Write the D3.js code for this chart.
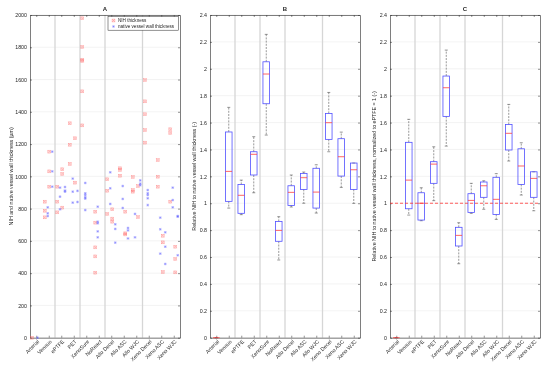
<!DOCTYPE html>
<html><head><meta charset="utf-8">
<script src="https://cdn.jsdelivr.net/npm/d3@7"></script>
<style>body{margin:0;background:#fff} svg{will-change:transform} text{font-family:"Liberation Sans",Arial,sans-serif;fill:#262626}</style>
</head><body><svg id="c" width="550" height="367"></svg>
<script>
const categories = ["Arterial","Venous","ePTFE","PET","XenoSure","NoReact","Allo Decel","Allo ASC","Allo WJC","Xeno Decel","Xeno ASC","Xeno WJC"];
const groupSeparators = [2.5, 4.5, 6.5, 9.5];
const titles = ["A","B","C"];
const yLabels = ["NIH and native vessel wall thickness (\u00b5m)",
  "Relative NIH to native vessel wall thickness (-)",
  "Relative NIH to native vessel wall thickness, normalized to ePTFE = 1 (-)"];
const yTicksA = [0,200,400,600,800,1000,1200,1400,1600,1800,2000];
const yTicksBC = [0,0.2,0.4,0.6,0.8,1,1.2,1.4,1.6,1.8,2,2.2,2.4];
const legendLabels = ["NIH thickness","native vessel wall thickness"];

// Panel A scatter: x position in category units, thickness in µm
const nihX = [0.66,
  1.68,1.68,1.68,2.04,2.04,2.04,
  2.68,2.68,2.68,3.08,3.08,3.08,
  3.68,3.68,3.68,4.1,4.1,
  4.68,4.68,4.68,4.68,4.68,4.68,
  5.72,5.72,5.72,5.72,5.72,
  6.68,6.68,6.68,7.08,7.08,7.08,
  7.7,7.7,7.7,8.12,8.12,8.12,
  8.72,8.72,8.72,9.14,9.14,
  9.7,9.7,9.7,9.7,9.7,
  10.72,10.72,10.72,11.12,11.12,11.12,
  11.72,11.72,11.72,12.12,12.12,12.12];
const nihVal = [0,
  843,787,746,1153,1031,936,
  936,843,777,1044,1015,806,
  1329,1196,1077,1236,961,
  1980,1802,1723,1715,1527,1316,
  781,713,560,504,403,
  982,911,767,796,738,719,
  1050,1040,1004,781,647,640,
  996,915,905,940,748,
  1597,1465,1385,1287,1209,
  1101,998,936,632,591,407,
  1292,1269,843,564,488,405];
const nativeX = [1.1,
  1.92,1.92,1.92,2.28,2.28,2.28,
  2.9,2.9,2.9,3.3,3.3,3.3,
  3.92,3.92,3.92,4.3,4.3,
  4.92,4.92,4.92,4.92,4.92,4.92,
  5.92,5.92,5.92,5.92,5.92,
  6.92,6.92,6.92,7.32,7.32,7.32,
  7.92,7.92,7.92,8.34,8.34,8.34,
  9.32,9.32,9.32,8.9,8.9,
  9.92,9.92,9.92,9.92,9.92,
  10.92,10.92,10.92,11.32,11.32,11.32,
  11.92,11.92,11.92,12.32,12.32,12.32];
const nativeVal = [0,
  808,771,754,1153,1031,936,
  930,874,796,934,912,905,
  986,905,837,910,841,
  959,895,884,870,862,791,
  812,719,709,659,622,
  1025,926,829,703,674,589,
  940,860,804,680,665,615,
  975,955,945,767,622,
  915,895,884,864,822,
  744,672,521,653,564,457,
  930,853,808,754,750,511];

// Panel B / C box stats: [lower whisker, q1, median, q3, upper whisker]
const boxB = [[0,0,0,0,0],[0.964,1.014,1.237,1.53,1.713],[0.915,0.925,1.059,1.14,1.172],
  [1.078,1.21,1.364,1.383,1.495],[1.507,1.74,1.961,2.052,2.256],[0.578,0.717,0.798,0.865,0.90],
  [0.972,0.984,1.081,1.13,1.21],[1.0,1.103,1.19,1.222,1.232],[0.927,0.964,1.083,1.26,1.286],
  [1.383,1.475,1.599,1.668,1.824],[1.118,1.202,1.346,1.48,1.529],[0.999,1.103,1.249,1.299,1.299]];
const boxC = [[0,0,0,0,0],[0.912,0.959,1.172,1.453,1.624],[0.87,0.875,1.0,1.078,1.115],
  [1.019,1.148,1.291,1.309,1.42],[1.425,1.646,1.859,1.946,2.139],[0.55,0.682,0.761,0.821,0.855],
  [0.925,0.932,1.021,1.071,1.148],[0.955,1.044,1.13,1.158,1.167],[0.88,0.917,1.029,1.193,1.22],
  [1.314,1.396,1.52,1.586,1.735],[1.061,1.14,1.277,1.405,1.45],[0.944,1.044,1.185,1.234,1.234]];
const referenceLineC = 1;

const svg = d3.select("#c");
const plotTop = 15, plotBottom = 337.7;
const panelLefts = [30, 210, 390], panelW = 150;
const fs = 5.3;

function panel(i, yDomain, yTicks, fmt) {
  const L = panelLefts[i];
  const x = d3.scaleLinear().domain([0.5, 12.5]).range([L, L + panelW]);
  const y = d3.scaleLinear().domain(yDomain).range([plotBottom, plotTop]);
  const g = svg.append("g");
  g.selectAll(".gy").data(yTicks).enter().append("line")
    .attr("x1", L).attr("x2", L + panelW).attr("y1", d => y(d)).attr("y2", d => y(d))
    .attr("stroke", "#ebebeb").attr("stroke-width", 0.6);
  g.selectAll(".sep").data(groupSeparators).enter().append("line")
    .attr("x1", d => x(d)).attr("x2", d => x(d)).attr("y1", plotTop).attr("y2", plotBottom)
    .attr("stroke", "#d6d6d6").attr("stroke-width", 1.3);
  const yAxisL = d3.axisLeft(y).tickValues(yTicks).tickFormat(fmt).tickSizeInner(-2).tickSizeOuter(0).tickPadding(3);
  const yAxisR = d3.axisRight(y).tickValues(yTicks).tickFormat("").tickSizeInner(-2).tickSizeOuter(0);
  const xAxisB = d3.axisBottom(x).tickValues(d3.range(1, 13)).tickFormat("").tickSizeInner(-2).tickSizeOuter(0);
  const xAxisT = d3.axisTop(x).tickValues(d3.range(1, 13)).tickFormat("").tickSizeInner(-2).tickSizeOuter(0);
  const ax = [
    g.append("g").attr("transform", `translate(${L},0)`).call(yAxisL),
    g.append("g").attr("transform", `translate(${L + panelW},0)`).call(yAxisR),
    g.append("g").attr("transform", `translate(0,${plotBottom})`).call(xAxisB),
    g.append("g").attr("transform", `translate(0,${plotTop})`).call(xAxisT)];
  ax.forEach(a => {
    a.select(".domain").attr("stroke", "#262626").attr("stroke-width", 0.6);
    a.selectAll(".tick line").attr("stroke", "#262626").attr("stroke-width", 0.5);
    a.selectAll("text").attr("font-size", fs).attr("fill", "#262626").attr("font-family", '"Liberation Sans",Arial,sans-serif');
  });
  g.selectAll(".xl").data(categories).enter().append("text")
    .attr("transform", (d, j) => `translate(${x(j + 1) + 2},${plotBottom + 3}) rotate(-45)`)
    .attr("text-anchor", "end").attr("dy", "0.35em").attr("font-size", fs).attr("fill", "#262626").text(d => d);
  g.append("text").attr("x", L + panelW / 2).attr("y", 10.5).attr("text-anchor", "middle")
    .attr("font-size", 6).attr("font-weight", "bold").text(titles[i]);
  const lx = i === 0 ? 12.5 : L - 14;
  g.append("text").attr("transform", `translate(${lx},${(plotTop + plotBottom) / 2}) rotate(-90)`)
    .attr("text-anchor", "middle").attr("font-size", fs).text(yLabels[i]);
  return {g, x, y};
}

function redMark(g, cx, cy) {
  const s = 1.45;
  g.append("rect").attr("x", cx - s).attr("y", cy - s).attr("width", 2 * s).attr("height", 2 * s)
    .attr("fill", "rgba(255,150,150,0.25)").attr("stroke", "rgba(255,70,70,0.45)").attr("stroke-width", 0.5);
  g.append("path").attr("d", `M${cx - s},${cy - s}L${cx + s},${cy + s}M${cx - s},${cy + s}L${cx + s},${cy - s}`)
    .attr("stroke", "rgba(255,70,70,0.45)").attr("stroke-width", 0.45);
}
function blueMark(g, cx, cy) {
  const s = 1.3;
  g.append("rect").attr("x", cx - s).attr("y", cy - s).attr("width", 2 * s).attr("height", 2 * s)
    .attr("fill", "rgba(130,130,255,0.2)").attr("stroke", "none");
  g.append("path").attr("d", `M${cx - s},${cy}L${cx + s},${cy}M${cx},${cy - s}L${cx},${cy + s}M${cx - s * 0.75},${cy - s * 0.75}L${cx + s * 0.75},${cy + s * 0.75}M${cx - s * 0.75},${cy + s * 0.75}L${cx + s * 0.75},${cy - s * 0.75}`)
    .attr("stroke", "rgba(70,70,255,0.5)").attr("stroke-width", 0.45);
}

const A = panel(0, [0, 2000], yTicksA, d3.format("d"));
nihX.forEach((u, k) => redMark(A.g, A.x(u), A.y(nihVal[k])));
nativeX.forEach((u, k) => blueMark(A.g, A.x(u), A.y(nativeVal[k])));
const lg = A.g.append("g");
lg.append("rect").attr("x", 108).attr("y", 16.7).attr("width", 70.5).attr("height", 13.5)
  .attr("fill", "#fff").attr("stroke", "#262626").attr("stroke-width", 0.5);
redMark(lg, 113.5, 20.5);
blueMark(lg, 113.5, 26.5);
lg.append("text").attr("x", 118).attr("y", 20.5).attr("dy", "0.35em").attr("font-size", 4.6).text(legendLabels[0]);
lg.append("text").attr("x", 118).attr("y", 26.5).attr("dy", "0.35em").attr("font-size", 4.6).text(legendLabels[1]);

function boxes(P, data) {
  const hw = 3.3, cw = 1.5;
  data.forEach((b, j) => {
    const cx = P.x(j + 1);
    const g = P.g.append("g");
    g.append("line").attr("x1", cx).attr("x2", cx).attr("y1", P.y(b[3])).attr("y2", P.y(b[4]))
      .attr("stroke", "#333").attr("stroke-width", 0.5).attr("stroke-dasharray", "2,1.2");
    g.append("line").attr("x1", cx).attr("x2", cx).attr("y1", P.y(b[1])).attr("y2", P.y(b[0]))
      .attr("stroke", "#333").attr("stroke-width", 0.5).attr("stroke-dasharray", "2,1.2");
    [b[0], b[4]].forEach(v => g.append("line").attr("x1", cx - cw).attr("x2", cx + cw)
      .attr("y1", P.y(v)).attr("y2", P.y(v)).attr("stroke", "#333").attr("stroke-width", 0.5));
    g.append("rect").attr("x", cx - hw).attr("width", 2 * hw).attr("y", P.y(b[3]))
      .attr("height", P.y(b[1]) - P.y(b[3])).attr("fill", "none").attr("stroke", "#5050ff").attr("stroke-width", 0.8);
    g.append("line").attr("x1", cx - hw).attr("x2", cx + hw).attr("y1", P.y(b[2])).attr("y2", P.y(b[2]))
      .attr("stroke", "#ff4040").attr("stroke-width", 0.8);
  });
}
const B = panel(1, [0, 2.4], yTicksBC, d => d3.format("~g")(d));
boxes(B, boxB);
const C = panel(2, [0, 2.4], yTicksBC, d => d3.format("~g")(d));
boxes(C, boxC);
C.g.append("line").attr("x1", C.x(0.5)).attr("x2", C.x(12.5)).attr("y1", C.y(referenceLineC)).attr("y2", C.y(referenceLineC))
  .attr("stroke", "#ff3030").attr("stroke-width", 0.8).attr("stroke-dasharray", "3,2");
</script></body></html>
